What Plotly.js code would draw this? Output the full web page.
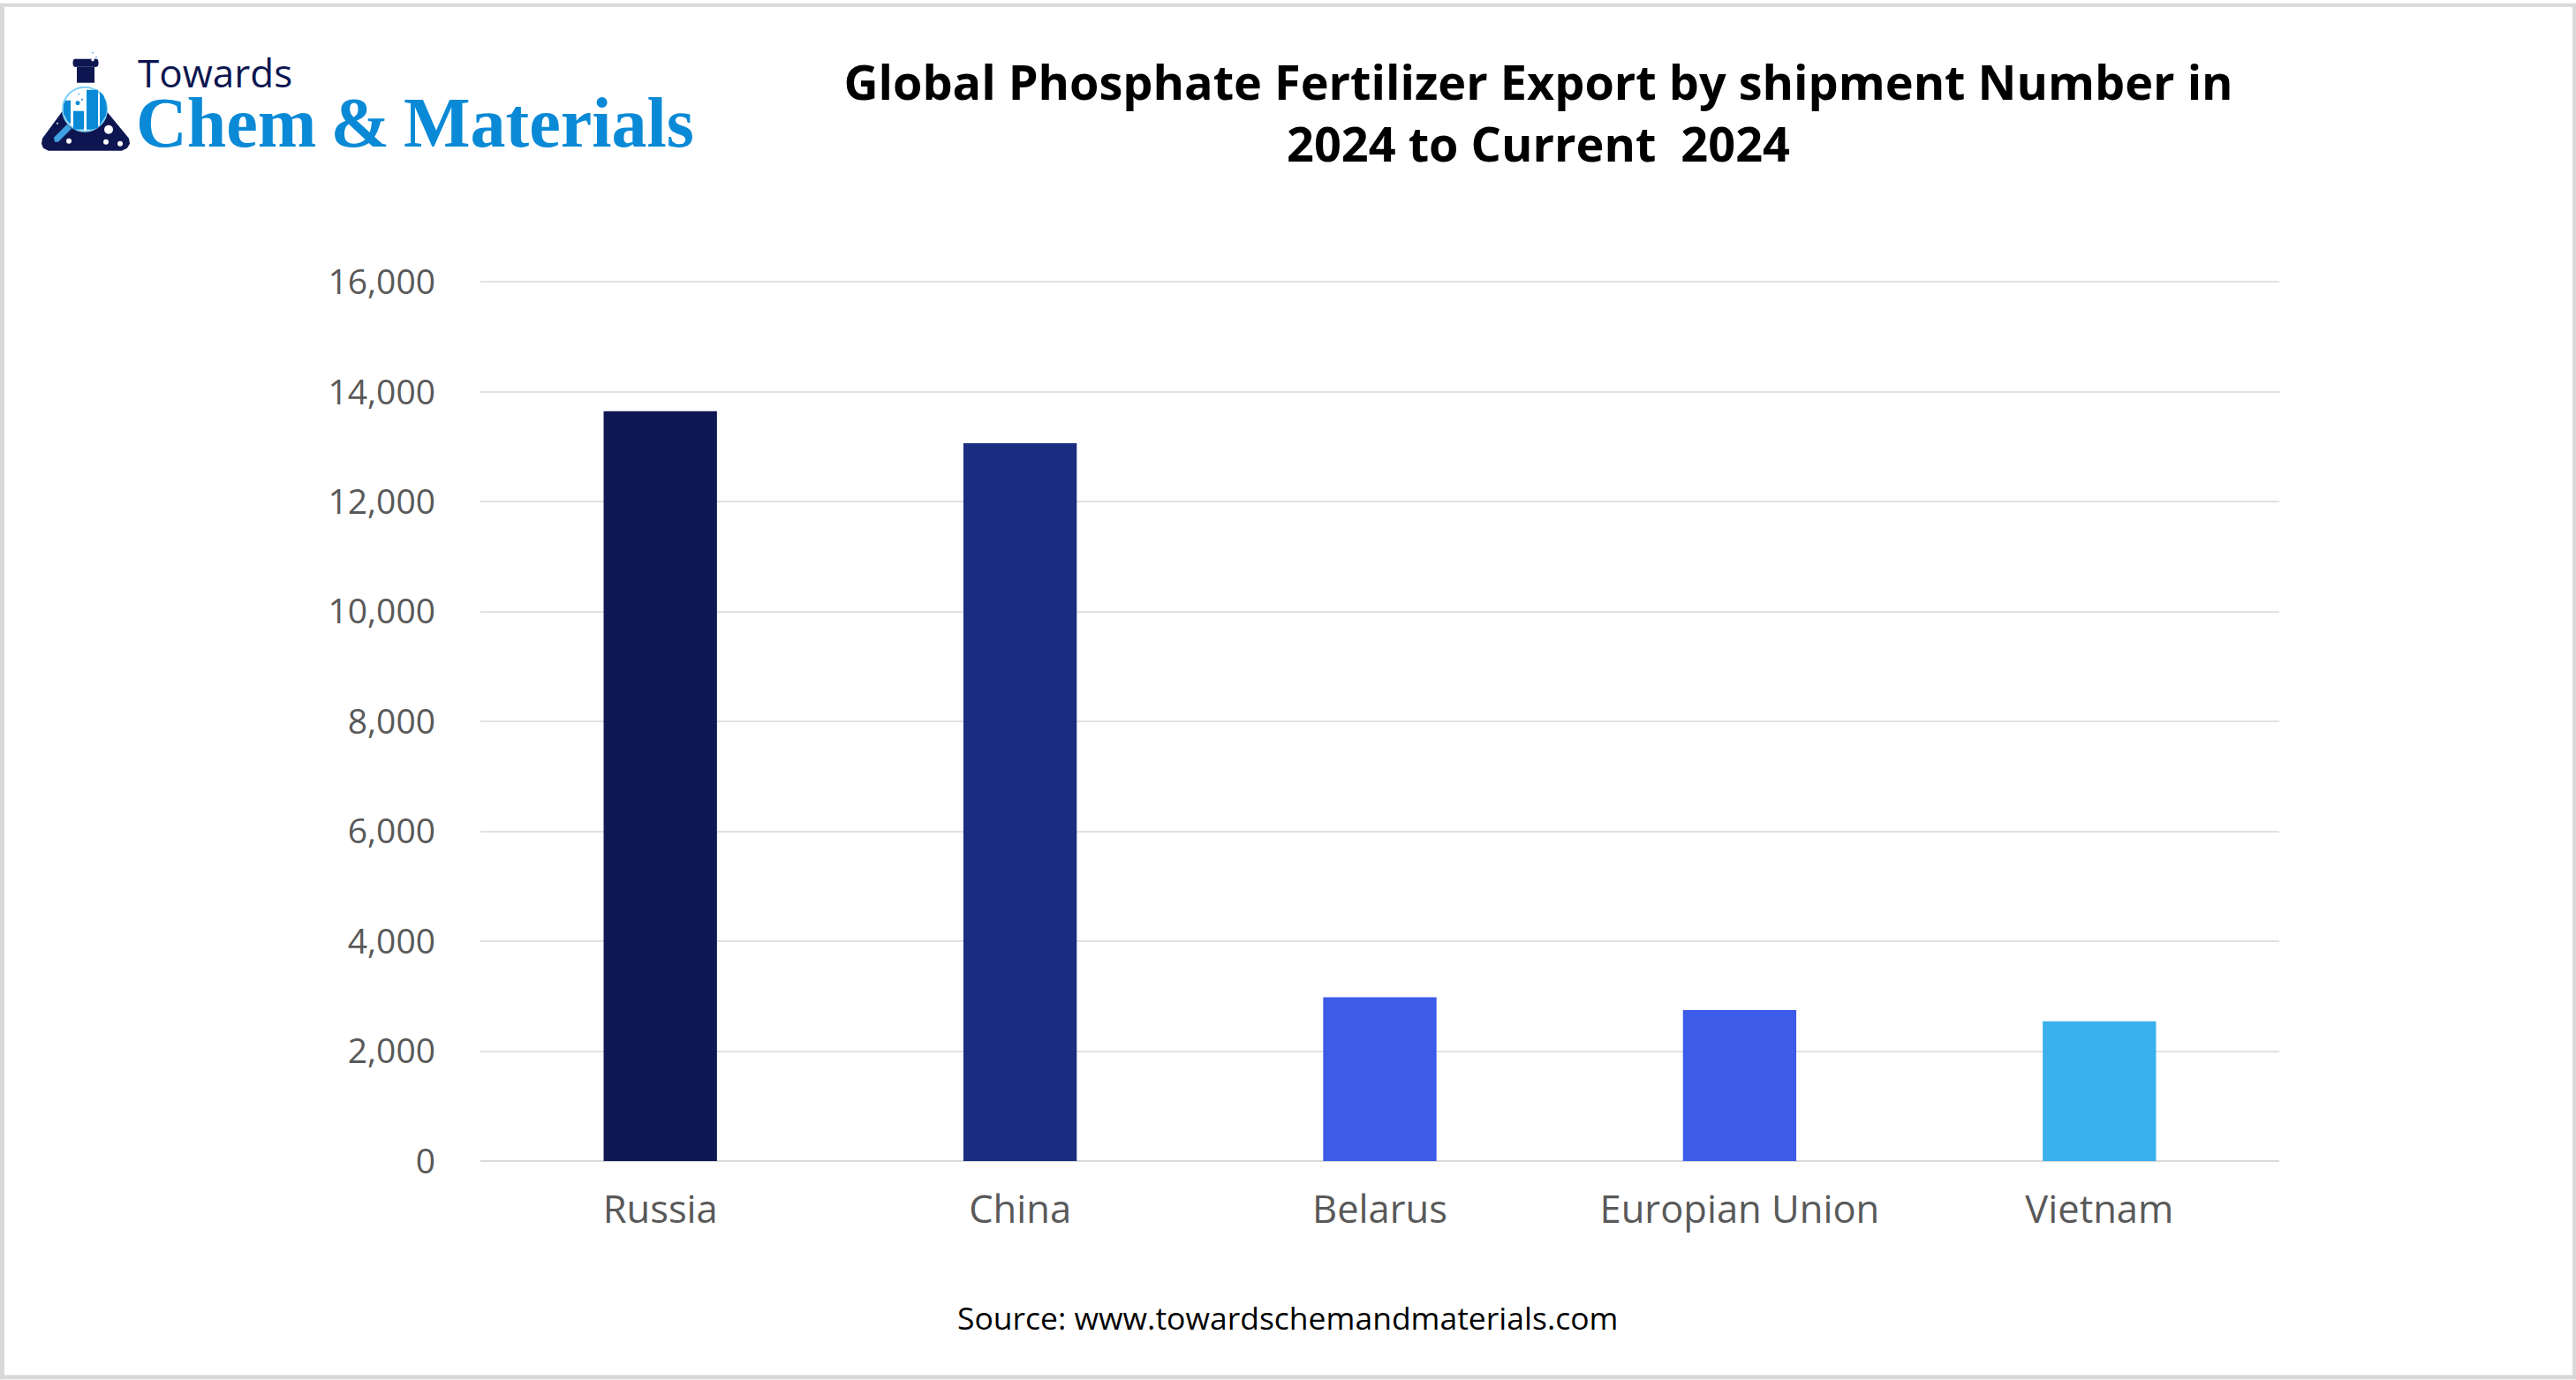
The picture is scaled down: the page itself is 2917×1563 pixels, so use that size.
<!DOCTYPE html>
<html>
<head>
<meta charset="utf-8">
<script src="https://cdn.plot.ly/plotly-3.0.1.min.js"></script>
<style>html,body{margin:0;padding:0;background:#fff;}#chart{width:2917px;height:1563px;}</style>
</head>
<body>
<div id="chart"></div>
<script>
const categories = ["Russia", "China", "Belarus", "Europian Union", "Vietnam"];
const shipments = [13650, 13065, 2980, 2750, 2545];
const barColors = ["#0e1854", "#1a2d80", "#3c5be8", "#3c5be8", "#3ab0ec"];
const tickValues = [0, 2000, 4000, 6000, 8000, 10000, 12000, 14000, 16000];
const titleText = "Global Phosphate Fertilizer Export by shipment Number in<br>2024 to Current  2024";
const sourceText = "Source: www.towardschemandmaterials.com";

const W = 2917, H = 1563, L = 544, R = 2581, T = 316.5, B = 1315.5;
const fx = x => (x - L) / (R - L);
const fy = y => (B - y) / (B - T);
const paperPath = pts => pts.map((p, i) => (i ? "L" : "M") + fx(p[0]) + "," + fy(p[1])).join(" ") + " Z";
const pshape = (pts, color) => ({type: "path", xref: "paper", yref: "paper", path: paperPath(pts), fillcolor: color, line: {width: 0}, layer: "above"});
const prect = (x0, y0, x1, y1, color) => ({type: "rect", xref: "paper", yref: "paper", x0: fx(x0), x1: fx(x1), y0: fy(y0), y1: fy(y1), fillcolor: color, line: {width: 0}, layer: "above"});
const pcirc = (cx, cy, rx, ry, color, lw, lc) => ({type: "circle", xref: "paper", yref: "paper", x0: fx(cx - rx), x1: fx(cx + rx), y0: fy(cy + ry), y1: fy(cy - ry), fillcolor: color, line: {width: lw || 0, color: lc || color}, layer: "above"});

const navy = "#0d1650", blue = "#0a8ad6", pale = "#3f9fe0";
const logoShapes = [
  prect(85, 66, 109, 75, navy),
  pcirc(85, 70.5, 2.5, 4.5, navy),
  pcirc(109, 70.5, 2.5, 4.5, navy),
  prect(87, 75, 107, 93, navy),
  pshape([[73, 122], [118, 122], [146, 156], [147, 162], [144, 167], [138, 170], [55, 170], [49, 167], [47, 162], [48, 156]], navy),
  pcirc(96, 123, 25, 25, "#ffffff", 2, "#7fd0f5"),
  pshape([[72, 118], [74, 113], [80, 113], [80, 140], [76, 136], [72, 128]], blue),
  prect(83, 125, 95, 146, blue),
  pshape([[98, 101], [111, 101], [111, 144], [104, 146], [98, 146]], blue),
  pshape([[113, 103], [117, 107], [120, 115], [121, 123], [120, 130], [113, 141]], blue),
  pshape([[61, 155], [76, 140], [81, 145], [66, 160], [62, 160]], pale),
  pcirc(123, 146, 5, 5, "#ffffff"),
  pcirc(78, 159, 3, 3, "#ffffff"),
  pcirc(120, 160, 3, 3, "#ffffff"),
  pcirc(136, 162, 3, 3, "#ffffff"),
  pcirc(65, 139, 1, 1, "#ffffff"),
  pcirc(88, 116, 2.5, 2.5, blue),
  pcirc(93, 112, 1, 1, blue),
  pcirc(89, 106, 0.8, 0.8, blue),
  pcirc(105, 67, 1.7, 1.7, "#ffffff"),
  pcirc(109, 64, 0.8, 0.8, blue),
  pcirc(105, 59, 0.8, 0.8, blue)
];
const frame = [
  prect(0, 3, W, 7, "#d9d9d9"),
  prect(0, 1558, W, 1563, "#d9d9d9"),
  prect(0, 3, 5, 1563, "#d9d9d9"),
  prect(2913, 3, 2917, 1563, "#d9d9d9")
];

const data = [{
  type: "bar", x: categories, y: shipments,
  marker: {color: barColors, line: {width: 0}},
  width: 0.315, hoverinfo: "x+y"
}];
const layout = {
  width: W, height: H,
  paper_bgcolor: "#ffffff", plot_bgcolor: "#ffffff",
  margin: {l: L, r: W - R, t: T, b: H - B, pad: 0},
  showlegend: false,
  font: {family: "Open Sans, sans-serif", color: "#595959"},
  title: {text: titleText, font: {family: "Open Sans, sans-serif", size: 54, color: "#000000", weight: 700},
          x: 1742 / W, xanchor: "center", y: 1 - 113 / H, yanchor: "top"},
  xaxis: {type: "category", range: [-0.5, 4.5], showgrid: false, zeroline: false, showline: false,
          ticks: "", tickfont: {size: 43.5, color: "#595959"}, ticklabelstandoff: 25},
  yaxis: {range: [0, 16040], tickmode: "array", tickvals: tickValues, tickformat: ",d",
          showgrid: true, gridcolor: "#e2e2e2", gridwidth: 2, zeroline: true, zerolinecolor: "#d9d9d9", zerolinewidth: 2,
          showline: false, ticks: "", tickfont: {size: 39, color: "#595959"}, ticklabelstandoff: 50},
  shapes: frame.concat(logoShapes),
  annotations: [
    {xref: "paper", yref: "paper", x: fx(154), y: fy(113), xanchor: "left", yanchor: "bottom", showarrow: false,
     text: "Towards", font: {family: "Open Sans, sans-serif", size: 44, color: navy}},
    {xref: "paper", yref: "paper", x: fx(152), y: fy(184), xanchor: "left", yanchor: "bottom", showarrow: false,
     text: "Chem\u2009&amp;\u2009Materials", font: {family: "Liberation Serif, serif", size: 80, color: blue, weight: 700}},
    {xref: "paper", yref: "paper", x: fx(1458), y: fy(1493), xanchor: "center", yanchor: "middle", showarrow: false,
     text: sourceText, font: {family: "Open Sans, sans-serif", size: 35.5, color: "#000000"}}
  ]
};
Plotly.newPlot("chart", data, layout, {displayModeBar: false, responsive: false});
</script>
</body>
</html>
